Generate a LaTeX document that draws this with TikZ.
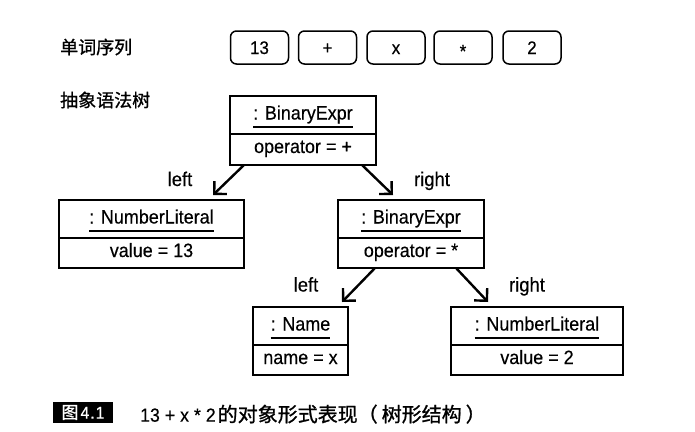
\documentclass[tikz,border=0pt]{standalone}
\usepackage{fontspec}
\setmainfont{Liberation Sans}[FakeStretch=0.93, FakeBold=0.4]
\newfontfamily\cjk{Noto Sans CJK SC}[FakeBold=1]
\usetikzlibrary{arrows.meta,calc}
\newcommand\capzh{{\cjk 的对象形式表现（\kern4pt 树形结构\kern4pt ）}}
\tikzset{
  every node/.style={font=\fontsize{19.3}{21}\selectfont},
  token/.style={draw, rounded corners=6pt, line width=1.5pt, minimum width=58pt, minimum height=33pt,
    inner sep=0pt, text height=13pt, text depth=0pt, font=\fontsize{18.2}{20}\selectfont},
  cls/.style={draw, line width=1.5pt, inner sep=0pt, outer sep=0pt},
  ttl/.style={anchor=base, inner sep=0pt},
  attr/.style={anchor=base, inner sep=0pt},
  uline/.style={line width=1.3pt},
  divider/.style={line width=1.5pt},
  conn/.style={line width=2.4pt, -{Straight Barb[length=9pt,width=18pt]}},
  lbl/.style={anchor=base, inner sep=0pt, font=\fontsize{19.8}{21}\selectfont},
  zh/.style={anchor=west, inner sep=0pt, font={\cjk\fontsize{18}{20}\selectfont}},
}
\begin{document}
\begin{tikzpicture}[x=1pt,y=-1pt]
\useasboundingbox (0,0) rectangle (695,431);
% left labels
\node[zh] (lseq) at (60,47) {单词序列};
\node[zh] (ltree) at (60,100) {抽象语法树};
% tokens
\node[token] (t1) at (259.5,47.5) {13};
\node[token] (t2) at (327.5,47.5) {+};
\node[token] (t3) at (396,47.5) {x};
\node[token] (t4) at (463,47.5) {\raisebox{-3.5pt}{*}};
\node[token] (t5) at (532,47.5) {2};
% class boxes
\node[cls, minimum width=146pt, minimum height=69pt] (top) at (303,130.5) {};
\node[cls, minimum width=185pt, minimum height=68pt] (numa) at (151.5,234) {};
\node[cls, minimum width=146pt, minimum height=68pt] (binb) at (411,234) {};
\node[cls, minimum width=95pt, minimum height=68pt] (name) at (300.5,341) {};
\node[cls, minimum width=172pt, minimum height=68pt] (numb) at (537,341) {};
\foreach \b/\t/\a in {top/{: BinaryExpr}/{operator = +}, numa/{: NumberLiteral}/{value = 13},
                      binb/{: BinaryExpr}/{operator = *}, name/{: Name}/{name = x},
                      numb/{: NumberLiteral}/{value = 2}}{
  \draw[divider] ([yshift=-38pt]\b.north west) -- ([yshift=-38pt]\b.north east);
  \node[ttl] (\b-t) at ([yshift=-23.5pt]\b.north) {\t};
  \draw[uline] ([yshift=-7.5pt]\b-t.base west) -- ([yshift=-7.5pt]\b-t.base east);
  \node[attr] (\b-a) at ([yshift=-57pt]\b.north) {\a};
}
% connectors
\draw[conn] ([xshift=-59pt]top.south) -- ([xshift=61.5pt,yshift=5pt]numa.north);
\draw[conn] ([xshift=59pt]top.south) -- ([xshift=-18pt,yshift=5pt]binb.north);
\draw[conn] ([xshift=-36pt]binb.south) -- ([xshift=41.5pt,yshift=5pt]name.north);
\draw[conn] ([xshift=45pt]binb.south) -- ([xshift=-49pt,yshift=5pt]numb.north);
% connector labels
\node[lbl] (l1) at (180,186) {left};
\node[lbl] (r1) at (432,186) {right};
\node[lbl] (l2) at (306,291.5) {left};
\node[lbl] (r2) at (527,291.5) {right};
% caption
\node[fill=black, text=white, minimum width=60pt, minimum height=21.5pt, inner sep=0pt,
      font=\fontsize{17}{19}\selectfont] (fig) at (83,412.5) {{\cjk 图}\kern2pt4\kern1pt.\kern1pt1};
\node[anchor=base west, inner sep=0pt, font=\fontsize{19}{21}\selectfont] (cap) at (140,421.7)
  {13\hspace{5pt}+\hspace{5pt}x\hspace{5pt}*\hspace{5pt}2\kern2pt\fontsize{20}{22}\selectfont\capzh};
\end{tikzpicture}
\end{document}
